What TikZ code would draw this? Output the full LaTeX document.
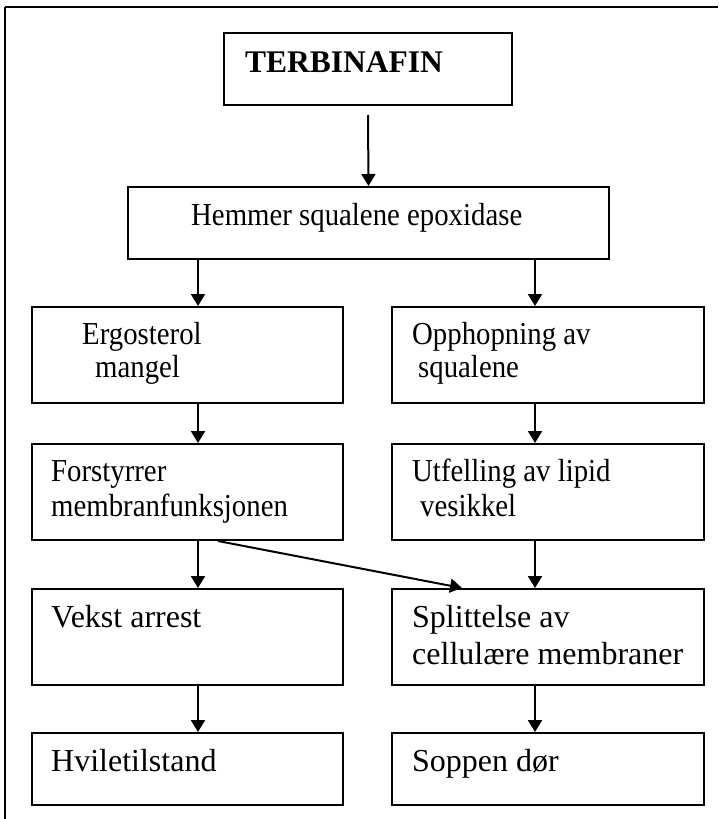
\documentclass[tikz,border=0pt]{standalone}
\usepackage{fontspec}
\setmainfont{Liberation Serif}
\newfontfamily\condfont[FakeStretch=0.9]{Liberation Serif}
\usetikzlibrary{arrows.meta}
\begin{document}
\begin{tikzpicture}[x=1pt,y=-1pt,
  box/.style={draw, line width=2pt, inner sep=0pt},
  txt/.style={anchor=base west, inner sep=0pt, font=\condfont\fontsize{32}{37}\selectfont},
  bigtxt/.style={anchor=base west, inner sep=0pt, font=\fontsize{32}{37}\selectfont},
  arr/.style={line width=2pt, -{Triangle[length=12pt,width=14pt]}}]
\useasboundingbox (0,0) rectangle (718,819);
% outer frame (top and left visible)
\draw[line width=2pt] (5,7) -- (718,7);
\draw[line width=1.3pt] (5,7) -- (5,819);
% boxes
\node[box, minimum width=288pt, minimum height=72pt, anchor=north west] (T) at (223,32) {};
\node[box, minimum width=481pt, minimum height=72pt, anchor=north west] (H) at (127,186) {};
\node[box, minimum width=311pt, minimum height=96pt, anchor=north west] (E) at (31,306) {};
\node[box, minimum width=312pt, minimum height=96pt, anchor=north west] (O) at (391,306) {};
\node[box, minimum width=311pt, minimum height=96pt, anchor=north west] (F) at (31,443) {};
\node[box, minimum width=312pt, minimum height=96pt, anchor=north west] (U) at (391,443) {};
\node[box, minimum width=311pt, minimum height=96pt, anchor=north west] (V) at (31,588) {};
\node[box, minimum width=312pt, minimum height=96pt, anchor=north west] (S) at (391,588) {};
\node[box, minimum width=311pt, minimum height=72pt, anchor=north west] (Hv) at (31,732) {};
\node[box, minimum width=312pt, minimum height=72pt, anchor=north west] (Sd) at (391,732) {};
% texts
\node[txt, font=\fontsize{31.5}{36}\selectfont\bfseries] (tT) at (245,72) {TERBINAFIN};
\node[txt] (tH) at (191,225) {Hemmer squalene epoxidase};
\node[txt] (tE1) at (82,344) {Ergosterol};
\node[txt] (tE2) at (95,377) {mangel};
\node[txt] (tO1) at (412,344) {Opphopning av};
\node[txt] (tO2) at (418,377) {squalene};
\node[txt] (tF1) at (51,481) {Forstyrrer};
\node[txt] (tF2) at (51,516) {membranfunksjonen};
\node[txt] (tU1) at (412,481) {Utfelling av lipid};
\node[txt] (tU2) at (420,516) {vesikkel};
\node[bigtxt] (tV) at (51,627) {Vekst arrest};
\node[bigtxt] (tS1) at (412,627) {Splittelse av};
\node[bigtxt] (tS2) at (412,664) {cellulære membraner};
\node[bigtxt] (tHv) at (51,771) {Hviletilstand};
\node[bigtxt] (tSd) at (412,771) {Soppen dør};
% arrow columns
\coordinate (xL) at (198,0);
\coordinate (xR) at (535,0);
\coordinate (dS) at (218,0);
\coordinate (dE) at (462,0);
% connectors
\draw[arr] ([yshift=-9pt]T.south) -- (H.north);
\draw[arr] (H.south -| xL) -- (E.north -| xL);
\draw[arr] (H.south -| xR) -- (O.north -| xR);
\draw[arr] (E.south -| xL) -- (F.north -| xL);
\draw[arr] (O.south -| xR) -- (U.north -| xR);
\draw[arr] (F.south -| xL) -- (V.north -| xL);
\draw[arr] (U.south -| xR) -- (S.north -| xR);
\draw[arr] (F.south -| dS) -- (S.north -| dE);
\draw[arr] (V.south -| xL) -- (Hv.north -| xL);
\draw[arr] (S.south -| xR) -- (Sd.north -| xR);
\end{tikzpicture}
\end{document}
